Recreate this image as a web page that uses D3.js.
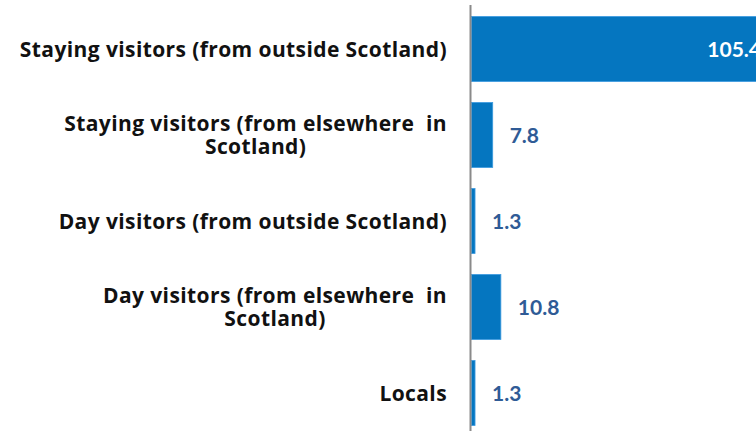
<!DOCTYPE html>
<html lang="en">
	<head>
		<meta charset="utf-8">
		<title>Visitors</title>
		<script type="text/javascript" src="https://d3js.org/d3.v7.min.js"></script>
		<style type="text/css">
			body { margin:0; background:#fff; }
			text { font-weight:bold; }
			.cat { font-family: "Open Sans", Lato, sans-serif; letter-spacing:0.4px; }
			.val { font-family: Lato, "Open Sans", sans-serif; }
		</style>
	</head>
	<body>
		<script type="text/javascript">

			var w = 756;
			var h = 431;

			// categories (each entry is the list of text lines) and values
			var categories = [
				["Staying visitors (from outside Scotland)"],
				["Staying visitors (from elsewhere  in", "Scotland)"],
				["Day visitors (from outside Scotland)"],
				["Day visitors (from elsewhere  in", "Scotland)"],
				["Locals"]
			];
			var values = [105.4, 7.8, 1.3, 10.8, 1.3];
			var valueLabels = ["105.4", "7.8", "1.3", "10.8", "1.3"];

			var svg = d3.select("body")
						.append("svg")
						.attr("width", w)
						.attr("height", h);

			var idx = d3.range(values.length);

			var y = d3.scaleBand()
						.domain(idx)
						.range([6, 436])
						.paddingInner(0.244)
						.paddingOuter(0.122);

			var x = d3.scaleLinear()
						.domain([0, 105.4])
						.range([471.5, 758]);

			// bars
			svg.selectAll("rect.bar")
				.data(idx)
				.enter()
				.append("rect")
				.attr("class", "bar")
				.attr("x", x(0))
				.attr("y", function(i){ return y(i); })
				.attr("width", function(i){ return x(values[i]) - x(0); })
				.attr("height", y.bandwidth())
				.style("fill", "#0576c0")
				.style("stroke", "#3c9be0")
				.style("stroke-width", 0.8);

			// axis line
			svg.append("line")
				.attr("x1", 470.5).attr("x2", 470.5)
				.attr("y1", 5).attr("y2", h)
				.style("stroke", "#8a8a8a")
				.style("stroke-width", 2);

			// value labels
			svg.selectAll("text.val")
				.data(idx)
				.enter()
				.append("text")
				.attr("class", "val")
				.attr("x", function(i){
					return i == 0 ? x(values[i]) + 3 : x(values[i]) + 17;
				})
				.attr("y", function(i){ return y(i) + y.bandwidth()/2; })
				.attr("dy", "0.36em")
				.attr("text-anchor", function(i){ return i == 0 ? "end" : "start"; })
				.style("font-size", "21px")
				.style("fill", function(i){ return i == 0 ? "#ffffff" : "#2f5b96"; })
				.text(function(i){ return valueLabels[i]; });

			// category labels: block right-aligned, lines centred inside it
			var lineH = 23;
			idx.forEach(function(i){
				var lines = categories[i];
				var cy = y(i) + y.bandwidth()/2;
				var t = svg.append("text")
						.attr("class", "cat")
						.attr("text-anchor", "middle")
						.style("font-size", "21px")
						.style("fill", "#111")
						.style("white-space", "pre");
				var spans = lines.map(function(l, k){
					return t.append("tspan")
						.attr("y", cy + (k - (lines.length - 1)/2) * lineH)
						.attr("dy", "0.36em")
						.text(l);
				});
				var bw = d3.max(spans, function(s){ return s.node().getComputedTextLength(); });
				spans.forEach(function(s){ s.attr("x", 447 - bw/2); });
			});

		</script>
	</body>
</html>
